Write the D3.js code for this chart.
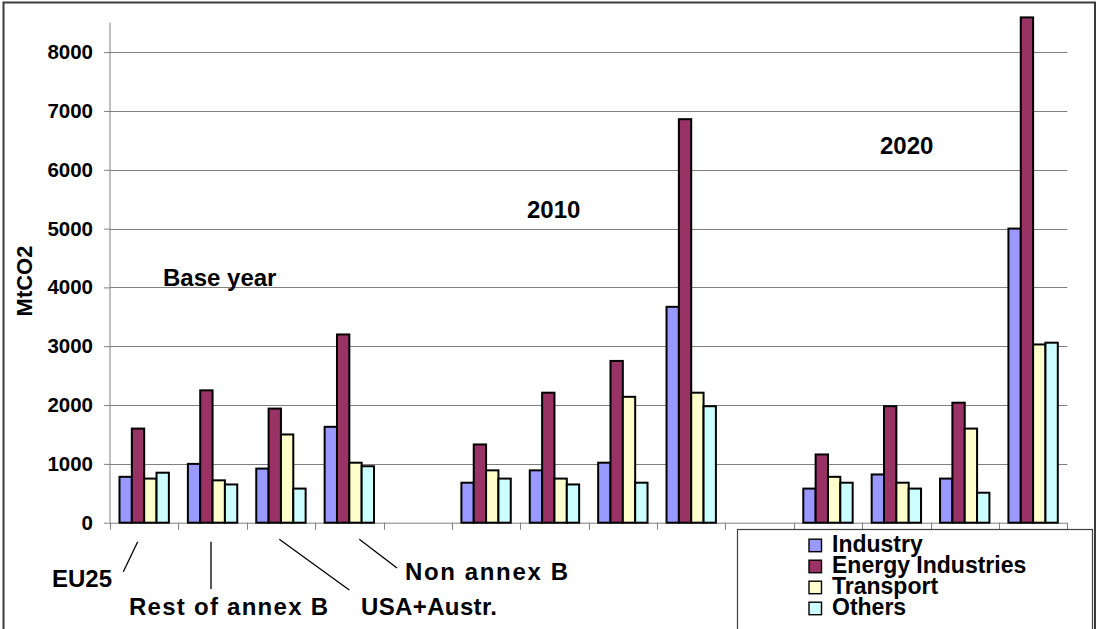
<!DOCTYPE html>
<html>
<head>
<meta charset="utf-8">
<script src="https://cdn.jsdelivr.net/npm/d3@7"></script>
<style>
  html, body { margin: 0; padding: 0; background: #fff; }
  svg { display: block; font-family: "Liberation Sans", Arial, sans-serif; font-weight: bold; }
</style>
</head>
<body>
<svg id="chart" width="1096" height="629"></svg>
<script>
// Regions shown in each period block
const regions = ["EU25", "Rest of annex B", "USA+Austr.", "Non annex B"];
const periods = ["Base year", "2010", "2020"];
const seriesNames = ["Industry", "Energy Industries", "Transport", "Others"];
const seriesColors = ["#9999FF", "#993366", "#FFFFCC", "#CCFFFF"];

// Emissions in MtCO2, per period, in region order
const industry = [
  [780, 1000, 920, 1630],
  [680, 890, 1020, 3670],
  [580, 820, 750, 5000]
];
const energyIndustries = [
  [1600, 2250, 1940, 3200],
  [1330, 2210, 2750, 6860],
  [1160, 1980, 2040, 8590]
];
const transport = [
  [750, 720, 1500, 1020],
  [890, 750, 2140, 2210],
  [780, 680, 1600, 3030]
];
const others = [
  [850, 650, 580, 960],
  [750, 650, 680, 1980],
  [680, 580, 510, 3060]
];
const yTicks = [0, 1000, 2000, 3000, 4000, 5000, 6000, 7000, 8000];
const yMax = 8500;

const seriesValues = [industry, energyIndustries, transport, others];

// Category slots: four regions per period with one empty slot between periods
const slots = [];
periods.forEach((p, pi) => {
  regions.forEach((r, ri) => slots.push({ key: p + "|" + r, period: pi, region: ri }));
  if (pi < periods.length - 1) slots.push({ key: "gap" + pi, period: null, region: null });
});

const svg = d3.select("#chart");

const plot = { left: 110, right: 1067.3, top: 22.7, bottom: 522.7 };

const x0 = d3.scaleBand()
  .domain(slots.map(d => d.key))
  .range([plot.left, plot.right])
  .paddingInner(0).paddingOuter(0);

const x1 = d3.scaleBand()
  .domain(seriesNames)
  .range([0, x0.bandwidth()])
  .paddingInner(0).paddingOuter(0.77);

const y = d3.scaleLinear().domain([0, yMax]).range([plot.bottom, plot.top]);

// Outer frame
svg.append("rect")
  .attr("x", 3.5).attr("y", 2.5)
  .attr("width", 1091.5).attr("height", 640)
  .attr("fill", "#fff")
  .attr("stroke", "#3a3a3a").attr("stroke-width", 2);

// Gridlines
svg.append("g")
  .selectAll("line")
  .data(yTicks.filter(t => t > 0))
  .join("line")
  .attr("x1", plot.left).attr("x2", plot.right)
  .attr("y1", d => Math.round(y(d)) + 0.5).attr("y2", d => Math.round(y(d)) + 0.5)
  .attr("stroke", "#808080").attr("stroke-width", 1);

// Y axis
const yAxis = d3.axisLeft(y).tickValues(yTicks).tickSize(6).tickPadding(11).tickFormat(d3.format("d"));
const gy = svg.append("g").attr("transform", `translate(${plot.left},0)`).call(yAxis);
gy.select(".domain").attr("stroke", "#808080").attr("d", `M0,${plot.top}V${plot.bottom}`);
gy.selectAll(".tick line").attr("stroke", "#808080");
gy.selectAll(".tick text")
  .attr("font-size", 20.5).attr("font-weight", "bold")
  .attr("font-family", "Liberation Sans, Arial, sans-serif")
  .attr("fill", "#000");

// X axis: tick marks on category boundaries
const boundaries = slots.map(d => x0(d.key)).concat([plot.right]);
const gx = svg.append("g");
gx.append("line")
  .attr("x1", plot.left).attr("x2", plot.right)
  .attr("y1", plot.bottom + 0.5).attr("y2", plot.bottom + 0.5)
  .attr("stroke", "#808080").attr("stroke-width", 1);
gx.selectAll("line.tick")
  .data(boundaries)
  .join("line")
  .attr("class", "tick")
  .attr("x1", d => Math.round(d) + 0.5).attr("x2", d => Math.round(d) + 0.5)
  .attr("y1", plot.bottom).attr("y2", plot.bottom + 7)
  .attr("stroke", "#808080").attr("stroke-width", 1);

// Bars
const barData = [];
slots.forEach(s => {
  if (s.period === null) return;
  seriesNames.forEach((name, si) => {
    barData.push({ slot: s.key, series: name, color: seriesColors[si], value: seriesValues[si][s.period][s.region] });
  });
});

svg.append("g")
  .selectAll("rect")
  .data(barData)
  .join("rect")
  .attr("x", d => x0(d.slot) + x1(d.series))
  .attr("y", d => y(d.value))
  .attr("width", x1.bandwidth())
  .attr("height", d => y(0) - y(d.value))
  .attr("fill", d => d.color)
  .attr("stroke", "#000").attr("stroke-width", 2);

// Y axis title
svg.append("text")
  .attr("transform", "translate(32,281) rotate(-90)")
  .attr("text-anchor", "middle")
  .attr("font-size", 22)
  .attr("fill", "#000")
  .text("MtCO2");

// Period labels
const periodLabels = [
  { text: periods[0], x: 163, y: 286 },
  { text: periods[1], x: 527, y: 218 },
  { text: periods[2], x: 880, y: 154 }
];
svg.append("g")
  .selectAll("text")
  .data(periodLabels)
  .join("text")
  .attr("x", d => d.x).attr("y", d => d.y)
  .attr("font-size", 24)
  .attr("fill", "#000")
  .text(d => d.text);

// Region labels with leader lines
const regionLabels = [
  { text: regions[0], x: 52, y: 587, w: 60, line: [137.7, 541.7, 123.3, 571.7] },
  { text: regions[1], x: 129, y: 615, w: 199, line: [211, 541.7, 211, 589] },
  { text: regions[2], x: 361, y: 615, w: 136, line: [279.3, 539.3, 349.3, 590] },
  { text: regions[3], x: 405, y: 580, w: 163, line: [359.3, 539.3, 397, 568] }
];
const rl = svg.append("g");
rl.selectAll("line")
  .data(regionLabels)
  .join("line")
  .attr("x1", d => d.line[0]).attr("y1", d => d.line[1])
  .attr("x2", d => d.line[2]).attr("y2", d => d.line[3])
  .attr("stroke", "#000").attr("stroke-width", 1.3);
rl.selectAll("text")
  .data(regionLabels)
  .join("text")
  .attr("x", d => d.x).attr("y", d => d.y)
  .attr("font-size", 24)
  .attr("textLength", d => d.w)
  .attr("lengthAdjust", "spacing")
  .attr("fill", "#000")
  .text(d => d.text);

// Legend
const legend = svg.append("g");
legend.append("rect")
  .attr("x", 737.5).attr("y", 529.5)
  .attr("width", 355).attr("height", 120)
  .attr("fill", "#fff")
  .attr("stroke", "#404040").attr("stroke-width", 1.2);
const items = legend.selectAll("g.item")
  .data(seriesNames)
  .join("g")
  .attr("class", "item")
  .attr("transform", (d, i) => `translate(809,${551.7 + i * 21})`);
items.append("rect")
  .attr("x", 0).attr("y", -12.5)
  .attr("width", 12.5).attr("height", 12.5)
  .attr("fill", (d, i) => seriesColors[i])
  .attr("stroke", "#000").attr("stroke-width", 1.4);
items.append("text")
  .attr("x", 23).attr("y", 0)
  .attr("font-size", 23)
  .attr("fill", "#000")
  .text(d => d);
</script>
</body>
</html>
